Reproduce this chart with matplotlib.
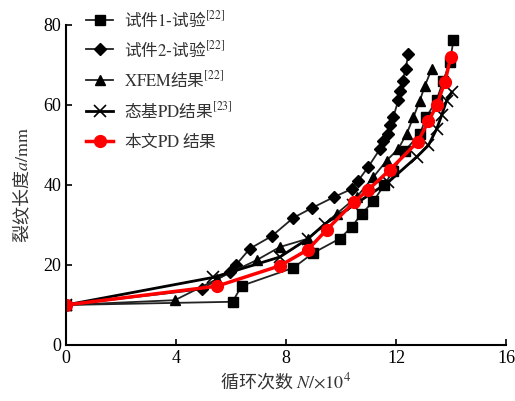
import matplotlib
matplotlib.use('Agg')
import matplotlib.pyplot as plt
from matplotlib.font_manager import FontProperties

plt.rcParams['font.family'] = ['Liberation Serif', 'Noto Sans CJK SC']
plt.rcParams['mathtext.fontset'] = 'stix'

# specimen 1 test
s1_x = [0, 6.06, 6.39, 8.27, 8.99, 9.96, 10.39, 10.75, 11.18, 11.56, 11.9, 12.33, 12.87, 13.1, 13.48, 13.72, 13.96, 14.09]
s1_y = [10, 10.8, 14.8, 19.3, 23.0, 26.6, 29.5, 32.8, 35.9, 39.9, 43.5, 48.6, 52.8, 56.9, 61.3, 66.1, 70.7, 76.2]

# specimen 2 test
s2_x = [0, 4.93, 5.96, 6.18, 6.69, 7.48, 8.27, 8.93, 9.75, 10.39, 10.63, 10.99, 11.42, 11.54, 11.72, 11.78, 11.9, 12.09, 12.15, 12.24, 12.35, 12.45]
s2_y = [10, 13.9, 18.3, 20.0, 24.1, 27.2, 31.8, 34.2, 37.0, 39.0, 41.1, 44.5, 49.0, 51.1, 52.8, 54.9, 56.9, 61.3, 63.6, 66.1, 69.0, 72.7]

# XFEM
xf_x = [0, 3.96, 5.5, 6.93, 7.78, 8.81, 9.84, 10.57, 11.18, 11.66, 12.08, 12.39, 12.63, 12.87, 13.05, 13.3]
xf_y = [10, 11.2, 16.5, 21.2, 24.5, 26.6, 32.8, 37.0, 42.0, 46.1, 49.0, 52.8, 56.9, 61.1, 64.8, 69.0]

# state-based PD
pd23_x = [0, 5.36, 7.78, 8.81, 9.42, 10.45, 11.72, 12.75, 13.18, 13.48, 13.66, 13.84, 14.03]
pd23_y = [10, 16.9, 22.0, 26.6, 30.3, 34.9, 40.7, 47.0, 49.9, 54.0, 57.4, 61.1, 63.2]

# this paper PD
pd_x = [0, 5.49, 7.78, 8.79, 9.48, 10.47, 10.99, 11.78, 12.79, 13.18, 13.48, 13.78, 13.99]
pd_y = [10, 14.7, 19.8, 23.8, 28.8, 35.7, 38.8, 43.8, 50.8, 55.9, 59.9, 65.8, 71.9]

# chinese goes outside $..$ (label font), latin inside (stix)
labels = ['试件$\\mathrm{1}$-试验$^{[22]}$', '试件$\\mathrm{2}$-试验$^{[22]}$',
          '$\\mathrm{XFEM}$结果$^{[22]}$', '态基$\\mathrm{PD}$结果$^{[23]}$',
          '本文$\\mathrm{PD}$ 结果']

cjk = 'Noto Sans CJK SC'

fig = plt.figure(figsize=(5.15, 4.01), dpi=100)
ax = fig.add_axes([0.128, 0.1397, 0.8545, 0.798])

ax.plot(s1_x, s1_y, color='#222222', lw=1.3, marker='s', ms=6.5, mfc='black', mec='black', label=labels[0])
ax.plot(s2_x, s2_y, color='#222222', lw=1.3, marker='D', ms=6, mfc='black', mec='black', label=labels[1])
ax.plot(xf_x, xf_y, color='#222222', lw=1.3, marker='^', ms=7, mfc='black', mec='black', label=labels[2])
ax.plot(pd23_x, pd23_y, color='black', lw=2.0, marker='x', ms=9, mew=1.2, label=labels[3])
ax.plot(pd_x, pd_y, color='red', lw=2.5, marker='o', ms=8.5, label=labels[4])

ax.set_xlim(0, 16)
ax.set_ylim(0, 80)
ax.set_xticks([0, 4, 8, 12, 16])
ax.set_yticks([0, 20, 40, 60, 80])
ax.tick_params(direction='in', labelsize=13, width=1.2, length=4)
ax.spines['top'].set_visible(False)
ax.spines['right'].set_visible(False)
for s in ['left', 'bottom']:
    ax.spines[s].set_linewidth(1.5)

ax.set_xlabel('循环次数 $N\\mathrm{/×10}^4$', fontsize=13, family=cjk, color='#333333', labelpad=3)
ax.set_ylabel('裂纹长度$a\\mathrm{/mm}$', fontsize=13, family=cjk, color='#333333', labelpad=8)

leg = ax.legend(loc='upper left', bbox_to_anchor=(0.012, 1.095), frameon=False,
                prop=FontProperties(family=cjk, size=12),
                handlelength=1.6, labelspacing=0.6, handletextpad=0.65)
for t in leg.get_texts():
    t.set_color('#333333')

fig.savefig('out.png', dpi=100)
